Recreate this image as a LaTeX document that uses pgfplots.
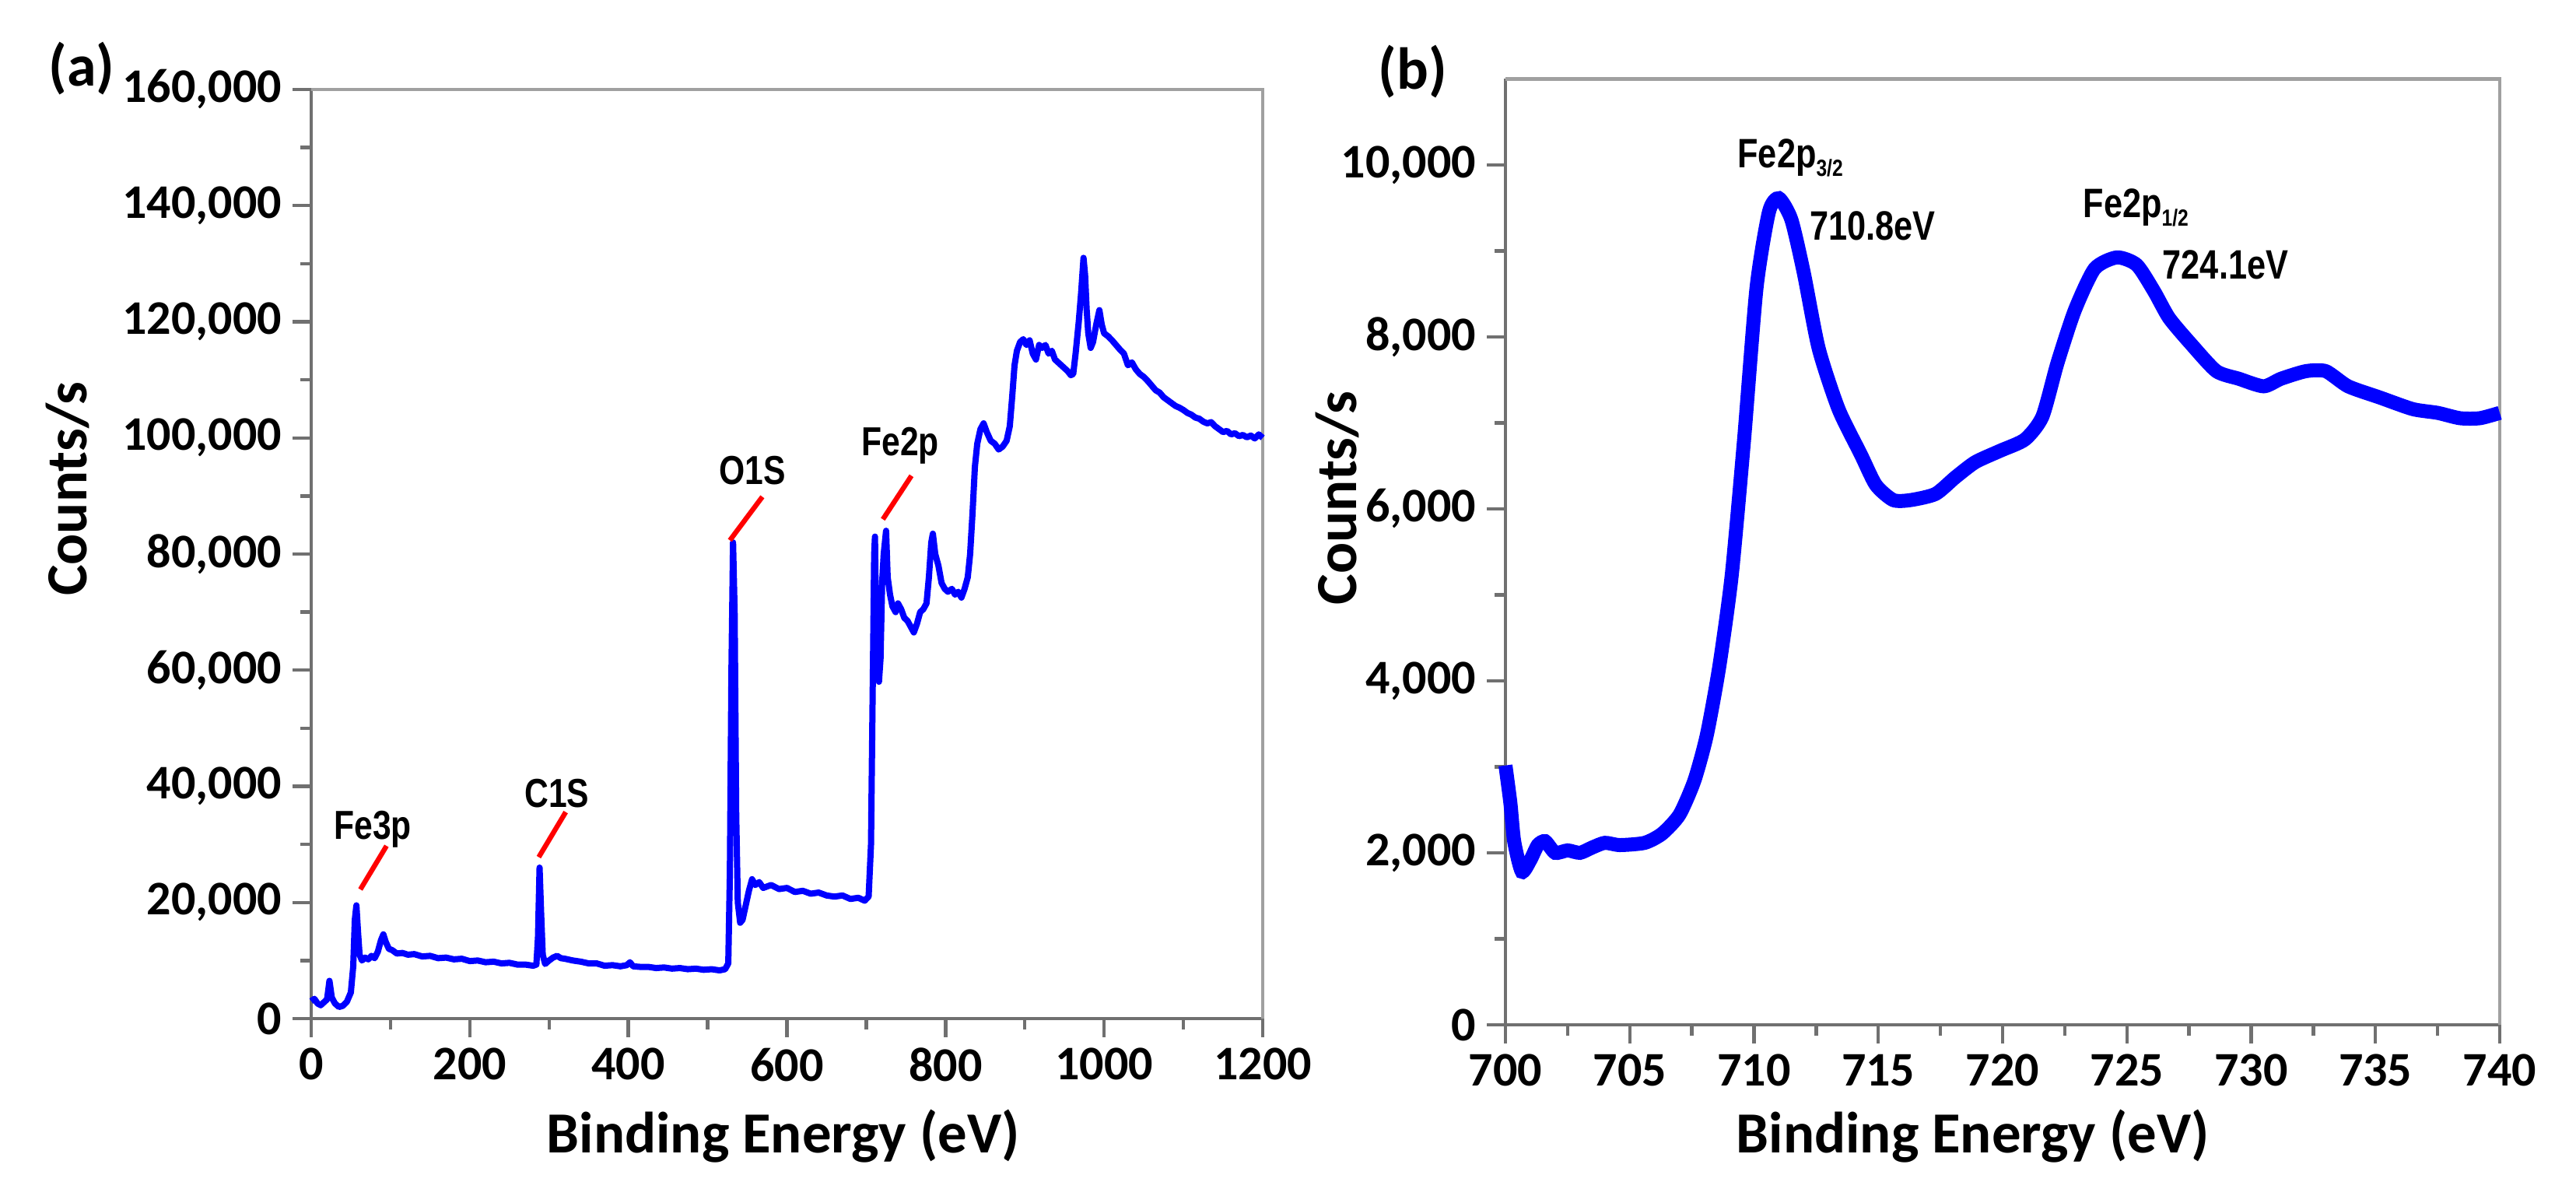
\documentclass[border=0pt]{standalone}
\usepackage{fontspec}
\setmainfont{Carlito}
\newfontfamily\annfont{Liberation Sans}
\usepackage{pgfplots}
\pgfplotsset{compat=1.18}
\newcommand{\ann}[1]{\scalebox{0.82}[1]{\annfont\bfseries #1}}
\definecolor{axgray}{RGB}{112,112,112}
\definecolor{framegray}{RGB}{160,160,160}
\definecolor{specblue}{RGB}{0,0,255}
\pgfplotsset{myaxis/.style={
  scale only axis,
  axis x line*=bottom, axis y line*=left,
  axis line style={draw=axgray, line width=1.1pt},
  every tick/.style={draw=axgray, line width=1.1pt},
  major tick length=6pt, minor tick length=3.5pt,
  tick align=outside,
  ticklabel style={font=\fontsize{15.5}{15.5}\selectfont\bfseries},
  label style={font=\fontsize{18.7}{18.7}\selectfont\bfseries},
  /pgf/number format/assume math mode=true,
  /pgf/number format/fixed,
  yticklabel style={/pgf/number format/1000 sep={,}},
  xticklabel style={/pgf/number format/1000 sep={}},
  scaled y ticks=false, scaled x ticks=false,
  minor x tick num=1, minor y tick num=1,
  clip=false,
}}
\begin{document}
\begin{tikzpicture}[x=1pt,y=1pt]
\node[font=\fontsize{19}{19}\selectfont\bfseries] at (26.25,360) {(a)};
\node[font=\fontsize{19}{19}\selectfont\bfseries] at (454,359) {(b)};
\begin{axis}[myaxis, at={(100pt,54.75pt)}, anchor=south west,
  width=305.75pt, height=298.5pt,
  xmin=0, xmax=1200, ymin=0, ymax=160000,
  xtick={0,200,...,1200}, ytick={0,20000,...,160000},
  xlabel={Binding Energy (eV)}, ylabel={Counts/s},
  xlabel style={at={(axis description cs:0.496,-0.1265)}, anchor=center},
  ylabel style={at={(axis description cs:-0.256,0.57)}, anchor=center}]
\draw[framegray, line width=1.1pt] (rel axis cs:0,1) -- (rel axis cs:1,1) -- (rel axis cs:1,0);
\addplot[specblue, line width=2pt, line join=round] table {
x y
0 3000
4 3400
8 2600
12 2300
16 2800
20 3300
23 6500
26 3600
30 2600
35 2000
40 2200
45 2900
50 4500
53 9000
55 17000
57 19500
59 15000
61 11000
64 10000
68 10500
72 10200
76 10800
80 10400
84 11500
88 13500
91 14500
94 13200
98 12000
102 11800
108 11200
115 11300
122 11000
130 11100
140 10700
150 10800
160 10400
170 10500
180 10200
190 10300
200 9900
210 10000
220 9700
230 9800
240 9500
250 9600
260 9300
270 9300
280 9100
284 9300
286 14000
288 26000
290 18000
292 11000
295 9400
300 10000
305 10500
310 10800
315 10400
320 10300
330 10000
340 9800
350 9500
360 9500
370 9100
380 9200
390 9000
398 9200
402 9700
406 9000
415 8900
425 8900
435 8700
445 8800
455 8600
465 8700
475 8500
485 8600
495 8400
505 8500
515 8300
522 8500
526 9500
528 25000
530 60000
532 82000
534 70000
536 35000
538 20000
541 16500
544 17000
548 19500
552 22000
556 24000
560 23000
565 23500
570 22500
580 23000
590 22300
600 22500
610 21800
620 22000
630 21500
640 21700
650 21200
660 21000
670 21200
680 20600
690 20800
698 20300
703 21000
706 30000
708 55000
710 80000
711 83000
712 72000
713 60000
714 68000
716 58000
718 62000
720 75000
722 80000
725 84000
727 76000
730 73000
733 71000
737 70000
740 71500
744 70500
748 69000
752 68500
756 67500
760 66500
764 68000
768 70000
772 70500
776 71500
779 76000
782 82000
784 83500
787 80000
791 78000
795 75000
799 74000
803 73500
808 74000
812 73000
816 73500
820 72500
824 74000
828 76000
831 80000
834 87000
837 95000
840 99000
844 101500
848 102500
852 101000
857 99500
862 99000
867 98000
872 98500
877 99500
881 102000
884 107000
887 112500
890 115000
894 116500
898 117000
902 116000
906 116800
910 114500
914 113500
918 116000
922 115500
926 116000
930 114500
934 115000
938 113500
942 113000
946 112500
950 112000
954 111500
958 110800
961 111000
964 114500
968 120000
971 125000
974 131000
976 128000
978 122000
980 118000
983 115500
986 116500
990 119500
994 122000
997 119500
1000 118000
1005 117500
1010 116800
1015 116000
1020 115200
1025 114500
1030 112500
1035 113000
1040 111800
1045 111000
1050 110500
1055 109800
1060 109000
1065 108200
1070 107800
1075 107000
1080 106500
1085 106000
1090 105500
1095 105200
1100 104800
1105 104300
1110 104000
1115 103500
1120 103300
1125 102800
1130 102500
1135 102700
1140 102000
1145 101500
1150 101000
1155 101200
1160 100600
1165 100800
1170 100300
1175 100500
1180 100100
1185 100400
1190 99900
1195 100600
1200 100000
};
\draw[red, line width=1.6pt] (axis cs:62,22240) -- (axis cs:95,29740);
\draw[red, line width=1.6pt] (axis cs:287,27800) -- (axis cs:321,35560);
\draw[red, line width=1.6pt] (axis cs:528,82360) -- (axis cs:569,89860);
\draw[red, line width=1.6pt] (axis cs:721,85980) -- (axis cs:757,93480);
\node[font=\fontsize{13}{13}\selectfont] at (axis cs:77.6,32600) {\ann{Fe3p}};
\node[font=\fontsize{13}{13}\selectfont] at (axis cs:310,38800) {\ann{C1S}};
\node[font=\fontsize{13}{13}\selectfont] at (axis cs:556.6,94400) {\ann{O1S}};
\node[font=\fontsize{13}{13}\selectfont] at (axis cs:742.8,98700) {\ann{Fe2p}};
\end{axis}
\begin{axis}[myaxis, at={(483.75pt,52.75pt)}, anchor=south west,
  width=319.5pt, height=303.9pt,
  xmin=700, xmax=740, ymin=0, ymax=11000,
  xtick={700,705,...,740}, ytick={0,2000,...,10000},
  xlabel={Binding Energy (eV)}, ylabel={Counts/s},
  xlabel style={at={(axis description cs:0.47,-0.1176)}, anchor=center},
  ylabel style={at={(axis description cs:-0.169,0.557)}, anchor=center}]
\draw[framegray, line width=1.1pt] (rel axis cs:0,1) -- (rel axis cs:1,1) -- (rel axis cs:1,0);
\addplot[specblue, line width=4.5pt, smooth, tension=0.4] table {
x y
700.0 3016
700.2 2575
700.35 2134
700.66 1781
701.0 1914
701.3 2090
701.6 2134
702.0 2000
702.5 2028
703.0 2000
703.5 2063
704.0 2116
704.6 2090
705.6 2116
706.3 2222
707.0 2443
707.6 2840
708.1 3369
708.6 4162
709.1 5220
709.6 6807
710.1 8570
710.6 9453
711.0 9612
711.5 9365
712.0 8747
712.6 7866
713.4 7160
714.3 6631
714.9 6278
715.6 6102
716.3 6102
717.3 6173
718.1 6367
718.9 6543
719.9 6675
720.9 6807
721.6 7072
722.2 7690
722.9 8306
723.7 8792
724.6 8924
725.4 8836
726.1 8527
726.7 8218
727.6 7910
728.6 7601
729.5 7513
730.5 7425
731.2 7513
732.2 7601
733.0 7601
733.9 7425
735.2 7292
736.5 7160
737.5 7116
738.4 7054
739.2 7054
740.0 7116
};
\node[anchor=west, font=\fontsize{13.2}{13.2}\selectfont] at (axis cs:708.9,10080) {\ann{Fe2p\raisebox{-0.4ex}{\fontsize{7.5}{7.5}\selectfont 3/2}}};
\node[anchor=west, font=\fontsize{13.2}{13.2}\selectfont] at (axis cs:711.8,9294) {\ann{710.8eV}};
\node[anchor=west, font=\fontsize{13.2}{13.2}\selectfont] at (axis cs:722.8,9500) {\ann{Fe2p\raisebox{-0.4ex}{\fontsize{7.5}{7.5}\selectfont 1/2}}};
\node[anchor=west, font=\fontsize{13.2}{13.2}\selectfont] at (axis cs:726.0,8836) {\ann{724.1eV}};
\end{axis}
\path (0,0) rectangle (827.75,382);
\end{tikzpicture}
\end{document}
